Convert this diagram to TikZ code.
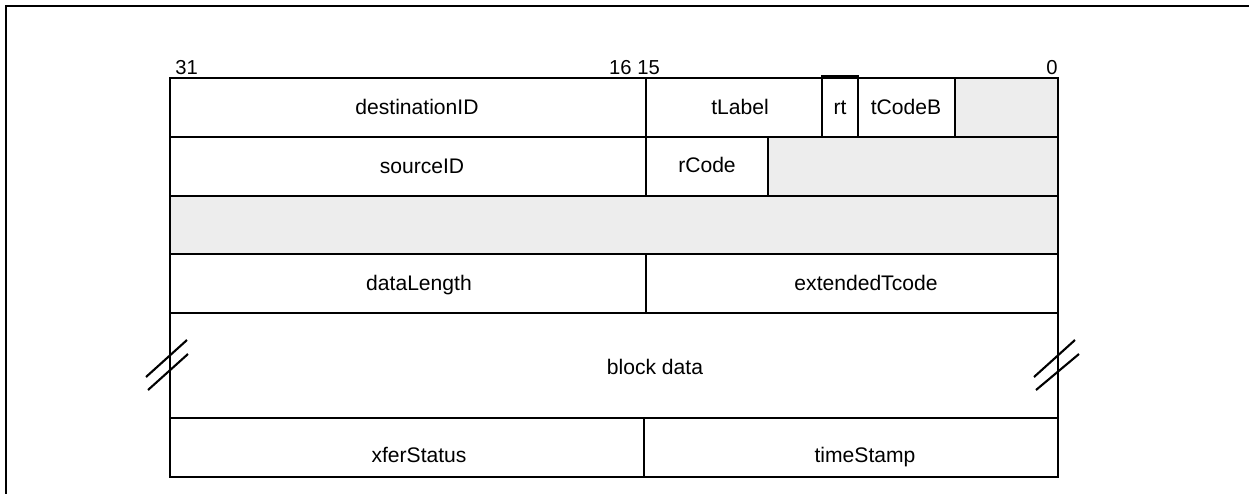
\documentclass[tikz,border=0pt]{standalone}
\usepackage{fontspec}
\setmainfont{Liberation Sans}

\begin{document}
\begin{tikzpicture}[
    x={(0.02cm,0cm)},
    y={(0cm,-0.02cm)},
    line join=miter,
    cell/.style={line width=1.2pt},
    grey/.style={fill=black!7},
    field/.style={font=\fontsize{12}{14}\selectfont, inner sep=0pt, anchor=base},
    bitno/.style={font=\fontsize{11.5}{13}\selectfont, inner sep=0pt},
    brk/.style={line width=1.2pt}
]

% =========================================================
% Размеры рисунка
% =========================================================

\def\L{170}     % левый край пакета
\def\M{646}     % граница 16/15
\def\R{1058}    % правый край пакета

\useasboundingbox (0,0) rectangle (1249,494);

% =========================================================
% Рамка
% =========================================================

\draw[line width=1.2pt] (6,494)--(6,6)--(1249,6);

% =========================================================
% Номера битов
% =========================================================

\node[bitno, anchor=base west] (b31) at (\L+5,74) {31};
\node[bitno, anchor=base east] (b16) at (\M-14,74) {16};
\node[bitno, anchor=base west] (b15) at (\M-9,74) {15};
\node[bitno, anchor=base east] (b0) at (\R,74) {0};

% =========================================================
% Серые (зарезервированные) поля
% =========================================================

\fill[grey] (955,78) rectangle (\R,137);
\fill[grey] (768,137) rectangle (\R,196);
\fill[grey] (\L,196) rectangle (\R,254);

% =========================================================
% Строки пакета
% =========================================================

\draw[cell] (\L,78) rectangle (\R,477);
\draw[cell] (\L,137)--(\R,137);
\draw[cell] (\L,196)--(\R,196);
\draw[cell] (\L,254)--(\R,254);
\draw[cell] (\L,313)--(\R,313);
\draw[cell] (\L,418)--(\R,418);

% =========================================================
% Вертикальные границы полей
% =========================================================

\draw[cell] (\M,78)--(\M,196);
\draw[cell] (\M,254)--(\M,313);
\draw[cell] (644,418)--(644,477);

\draw[cell] (822,76) rectangle (858,137);
\draw[cell] (955,78)--(955,137);
\draw[cell] (768,137)--(768,196);

% =========================================================
% Подписи полей
% =========================================================

\node[field] (dest) at (417,114) {destinationID};
\node[field] (tlab) at (740,114) {tLabel};
\node[field] (rt)   at (840,114) {rt};
\node[field] (tcb)  at (906,114) {tCodeB};

\node[field] (src)  at (422,173) {sourceID};
\node[field] (rcod) at (707,172) {rCode};

\node[field] (dlen) at (419,290) {dataLength};
\node[field] (etc)  at (866,290) {extendedTcode};

\node[field] (blk)  at (655,374) {block data};

\node[field] (xfer) at (419,462) {xferStatus};
\node[field] (tst)  at (865,462) {timeStamp};

% =========================================================
% Знаки разрыва
% =========================================================

\draw[brk] (146,377)--(187,340);
\draw[brk] (148,390)--(188,354);
\draw[brk] (1034,377)--(1075,340);
\draw[brk] (1036,390)--(1079,354);

\end{tikzpicture}
\end{document}
